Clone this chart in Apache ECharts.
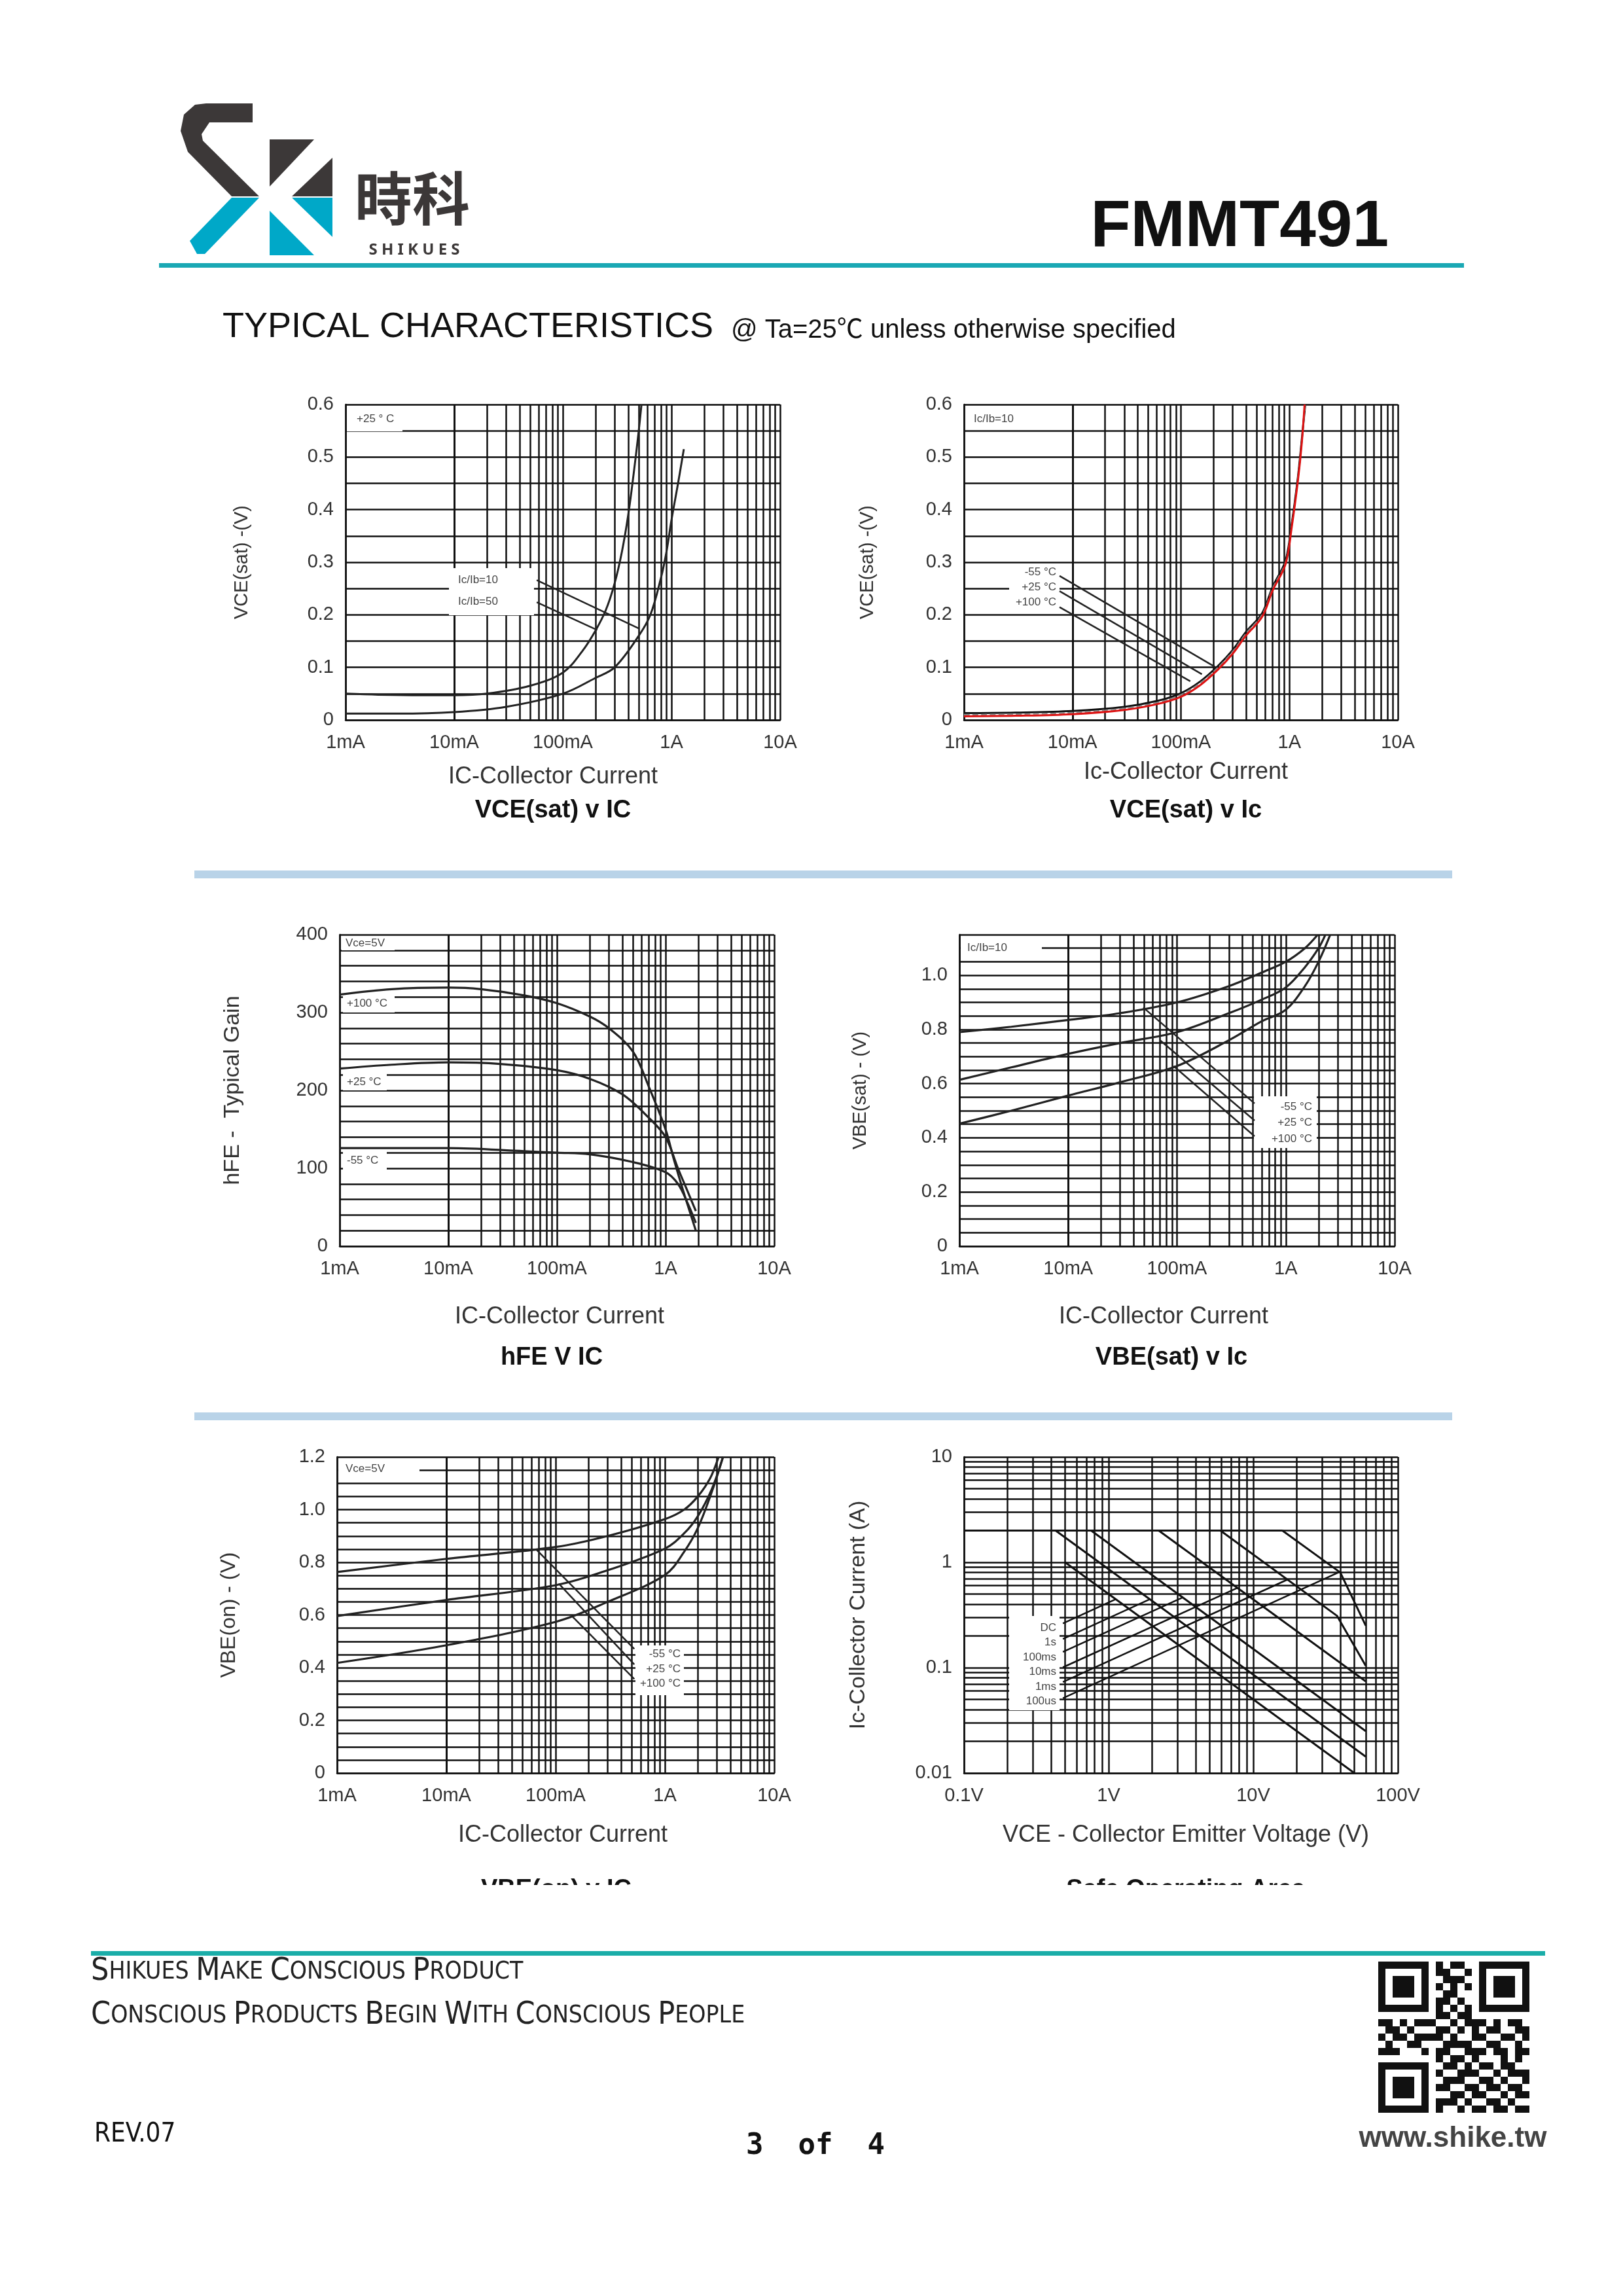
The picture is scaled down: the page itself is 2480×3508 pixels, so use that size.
<!DOCTYPE html>
<html><head><meta charset="utf-8">
<script src="https://cdn.jsdelivr.net/npm/echarts@6/dist/echarts.min.js"></script>
<style>html,body{margin:0;padding:0;background:#fff}#c{width:2480px;height:3508px}</style>
</head><body><div id="c"></div>
<script>
// ---------- DATA ----------
const currentTicks = ['1mA','10mA','100mA','1A','10A'];
const voltageTicks = ['0.1V','1V','10V','100V'];
// Chart 1: VCE(sat) v IC
const vceSat_IcIb10 = [[0.001,0.05],[0.002,0.048],[0.005,0.047],[0.01,0.047],[0.02,0.05],[0.05,0.065],[0.1,0.09],[0.15,0.13],[0.2,0.17],[0.25,0.21],[0.3,0.26],[0.35,0.32],[0.4,0.39],[0.45,0.47],[0.5,0.55],[0.53,0.6]];
const vceSat_IcIb50 = [[0.001,0.012],[0.003,0.012],[0.01,0.015],[0.03,0.025],[0.1,0.05],[0.2,0.08],[0.3,0.1],[0.5,0.16],[0.64,0.2],[0.8,0.27],[0.9,0.32],[1.0,0.38],[1.15,0.45],[1.3,0.515]];
const vceSat_lead10 = [[0.0575,0.266],[0.5,0.174]];
const vceSat_lead50 = [[0.0575,0.224],[0.2075,0.171]];
// Chart 2: VCE(sat) v Ic, three temperatures
const vce2_m55 = [[0.001,0.013],[0.003,0.014],[0.01,0.017],[0.03,0.025],[0.06,0.036],[0.1,0.051],[0.15,0.073],[0.22,0.103],[0.3,0.133],[0.4,0.168],[0.56,0.203],[0.7,0.253],[0.92,0.303],[1.05,0.373],[1.2,0.463],[1.3,0.533],[1.4,0.6]];
const vce2_p25 = [[0.001,0.01],[0.003,0.011],[0.01,0.014],[0.03,0.022],[0.06,0.033],[0.1,0.048],[0.15,0.07],[0.22,0.1],[0.3,0.13],[0.4,0.165],[0.56,0.2],[0.7,0.25],[0.92,0.3],[1.05,0.37],[1.2,0.46],[1.3,0.53],[1.4,0.6]];
const vce2_p100 = [[0.001,0.007],[0.003,0.008],[0.01,0.011],[0.03,0.019],[0.06,0.03],[0.1,0.044],[0.15,0.066],[0.22,0.096],[0.3,0.126],[0.4,0.161],[0.56,0.196],[0.7,0.246],[0.92,0.296],[1.05,0.366],[1.2,0.456],[1.3,0.526],[1.38,0.6]];
const vce2_leadM55 = [[0.0076,0.274],[0.206,0.101]];
const vce2_leadP25 = [[0.0076,0.245],[0.156,0.087]];
const vce2_leadP100 = [[0.0076,0.2145],[0.122,0.0735]];
// Chart 3: hFE v IC
const hfe_p100 = [[0.001,323],[0.003,330],[0.01,332],[0.02,330],[0.05,322],[0.1,312],[0.2,295],[0.3,280],[0.5,250],[0.7,205],[1.0,150],[1.2,110],[1.5,65],[1.9,20]];
const hfe_p25 = [[0.001,228],[0.003,233],[0.01,236],[0.03,234],[0.1,226],[0.2,215],[0.4,195],[0.7,165],[1.0,140],[1.3,100],[1.6,70],[1.9,45]];
const hfe_m55 = [[0.001,126],[0.01,126],[0.05,122],[0.1,120],[0.2,118],[0.5,108],[1.0,95],[1.3,80],[1.6,55],[1.9,30]];
// Chart 4: VBE(sat) v Ic
const vbeSat_m55 = [[0.001,0.79],[0.003,0.81],[0.01,0.835],[0.03,0.86],[0.1,0.9],[0.3,0.96],[0.6,1.01],[1.0,1.05],[1.5,1.1],[1.95,1.148]];
const vbeSat_p25 = [[0.001,0.614],[0.003,0.66],[0.01,0.71],[0.03,0.75],[0.1,0.79],[0.3,0.86],[0.6,0.91],[1.0,0.955],[1.5,1.03],[2.0,1.1],[2.3,1.148]];
const vbeSat_p100 = [[0.001,0.452],[0.003,0.5],[0.01,0.556],[0.03,0.605],[0.1,0.665],[0.3,0.76],[0.6,0.83],[1.0,0.873],[1.5,0.96],[2.0,1.05],[2.55,1.148]];
const vbeSat_leadM55 = [[0.049,0.881],[0.516,0.527]];
const vbeSat_leadP25 = [[0.070,0.76],[0.516,0.4637]];
const vbeSat_leadP100 = [[0.093,0.665],[0.516,0.406]];
// Chart 5: VBE(on) v IC
const vbeOn_m55 = [[0.001,0.763],[0.01,0.813],[0.1,0.858],[0.3,0.9],[1.0,0.964],[1.5,1.0],[2.0,1.05],[2.6,1.12],[3.1,1.2]];
const vbeOn_p25 = [[0.001,0.596],[0.01,0.657],[0.1,0.713],[0.3,0.77],[1.0,0.852],[1.5,0.91],[2.0,0.975],[2.7,1.08],[3.4,1.2]];
const vbeOn_p100 = [[0.001,0.418],[0.01,0.485],[0.1,0.574],[0.3,0.65],[1.0,0.752],[1.5,0.84],[2.0,0.93],[2.7,1.07],[3.4,1.2]];
const vbeOn_leadM55 = [[0.066,0.85],[0.525,0.471]];
const vbeOn_leadP25 = [[0.107,0.719],[0.525,0.412]];
const vbeOn_leadP100 = [[0.141,0.596],[0.525,0.357]];
// Chart 6: Safe Operating Area
const soa_limit2A = [[0.1,2],[15.9,2]];
const soa_DC = [[0.5,1],[50,0.01]];
const soa_1s = [[0.43,2],[60,0.0143]];
const soa_100ms = [[0.757,2],[60,0.025]];
const soa_10ms = [[2.22,2],[60,0.074]];
const soa_1ms = [[5.93,2],[38,0.31],[60,0.104]];
const soa_100us = [[15.9,2],[40,0.8],[60,0.25]];
const soa_leadDC = [[0.483,0.263],[1.12,0.446]];
const soa_lead1s = [[0.483,0.1875],[1.93,0.446]];
const soa_lead100ms = [[0.483,0.1413],[3.24,0.463]];
const soa_lead10ms = [[0.483,0.1007],[7.77,0.571]];
const soa_lead1ms = [[0.483,0.0731],[17.3,0.687]];
const soa_lead100us = [[0.483,0.0513],[39.6,0.81]];
const soaLabels = ['DC','1s','100ms','10ms','1ms','100us'];
const tempLabels = ['-55 °C','+25 °C','+100 °C'];
const qrRows = ["111111101011001111111","100000101100101000001","101110100111001011101","101110101010101011101","101110100110001011101","100000101101001000001","111111101010101111111","000000001101100000000","110101110010111010110","011010001101010110011","101101111010011001101","010011000111100110010","111000101100111011011","000000001011010001010","111111100110101101100","100000101001110010111","101110100111001101001","101110101100110110110","101110100011011001011","100000101110100110100","111111101001011011011"];

// ---------- STYLE / LAYOUT ----------
const FONT = "'Liberation Sans Narrow','Liberation Sans',Arial,sans-serif";
const GL = {color:'#111', width:2.5};
const grids = [
  {left:528, top:618, width:664, height:482},
  {left:1473, top:618, width:663, height:482},
  {left:519, top:1428, width:664, height:476},
  {left:1466, top:1428, width:665, height:476},
  {left:515, top:2226, width:668, height:483},
  {left:1473, top:2226, width:663, height:483}
];
function decLabel(ticks, minExp){ return v => { const e = Math.round(Math.log10(v)); return ticks[e - minExp] || ''; }; }
function xLog(i, min, max, ticks, minExp){
  return {gridIndex:i, type:'log', logBase:10, min, max,
    axisLine:{show:true, onZero:false, lineStyle:GL}, axisTick:{show:false},
    splitLine:{show:true, lineStyle:GL},
    axisLabel:{formatter:decLabel(ticks,minExp), fontSize:29, color:'#333', margin:20, fontFamily:FONT}};
}
function yVal(i, max, interval, fmt, name, nameGap, nameSize){
  return {gridIndex:i, type:'value', min:0, max, interval,
    axisLine:{show:true, lineStyle:GL}, axisTick:{show:false},
    splitLine:{show:true, lineStyle:GL},
    axisLabel:{formatter:fmt, fontSize:29, color:'#333', margin:18, fontFamily:FONT},
    name, nameLocation:'middle', nameGap, nameRotate:90,
    nameTextStyle:{fontSize:nameSize, color:'#333', fontFamily:FONT}};
}
const near = (a,b)=>Math.abs(a-b)<1e-6;
const fmtTenth = v => near(v*10, Math.round(v*10)) ? (near(v,0)?'0':v.toFixed(1)) : '';
const fmtFifth = v => near(v*5, Math.round(v*5)) ? (near(v,0)?'0':v.toFixed(1)) : '';
const fmtHund = v => (Math.round(v)%100===0) ? String(Math.round(v)) : '';

function minorVals(minExp, maxExp){
  const out=[]; for(let e=minExp;e<maxExp;e++){ for(let k=2;k<=9;k++){ out.push(k*Math.pow(10,e)); } } return out;
}
function gridSeries(i, xs, ys){
  const d = xs.map(v=>({xAxis:v})).concat((ys||[]).map(v=>({yAxis:v})));
  return {type:'line', xAxisIndex:i, yAxisIndex:i, data:[], z:1, silent:true, animation:false,
    markLine:{symbol:'none', silent:true, animation:false, z:1, label:{show:false}, lineStyle:{color:'#111',width:2.5,type:'solid'}, data:d}};
}
function curve(i, pts, color, width, smooth, type){
  return {type:'line', xAxisIndex:i, yAxisIndex:i, data:pts, showSymbol:false, smooth: smooth ? 0.35 : false,
    z:100, silent:true, animation:false, lineStyle:{color:color||'#222', width:width||3, type:type||'solid'}};
}

const xAxes = [
  xLog(0,0.001,10,currentTicks,-3), xLog(1,0.001,10,currentTicks,-3), xLog(2,0.001,10,currentTicks,-3),
  xLog(3,0.001,10,currentTicks,-3), xLog(4,0.001,10,currentTicks,-3), xLog(5,0.1,100,voltageTicks,-1)
];
const yAxes = [
  yVal(0,0.6,0.05,fmtTenth,'VCE(sat) -(V)',144,29),
  yVal(1,0.6,0.05,fmtTenth,'VCE(sat) -(V)',133,29),
  yVal(2,400,20,fmtHund,'hFE -  Typical Gain',146,34),
  yVal(3,1.15,0.05,fmtFifth,'VBE(sat) - (V)',137,29),
  yVal(4,1.2,0.05,fmtFifth,'VBE(on) - (V)',149,32),
  {gridIndex:5, type:'log', logBase:10, min:0.01, max:10,
    axisLine:{show:true, lineStyle:GL}, axisTick:{show:false}, splitLine:{show:true, lineStyle:GL},
    axisLabel:{formatter:v=>{const e=Math.round(Math.log10(v)); return ['0.01','0.1','1','10'][e+2]||'';}, fontSize:29, color:'#333', margin:18, fontFamily:FONT},
    name:'Ic-Collector Current (A)', nameLocation:'middle', nameGap:144, nameRotate:90,
    nameTextStyle:{fontSize:34, color:'#333', fontFamily:FONT}}
];

const series = [
  gridSeries(0, minorVals(-3,1)), gridSeries(1, minorVals(-3,1)), gridSeries(2, minorVals(-3,1)),
  gridSeries(3, minorVals(-3,1)), gridSeries(4, minorVals(-3,1)), gridSeries(5, minorVals(-1,2), minorVals(-2,1)),
  curve(0, vceSat_IcIb10, '#222', 3, true), curve(0, vceSat_IcIb50, '#222', 3, true),
  curve(0, vceSat_lead10, '#222', 2.5), curve(0, vceSat_lead50, '#222', 2.5),
  curve(1, vce2_m55, '#111', 3, true), curve(1, vce2_p25, '#888', 2.2, true, 'dashed'), curve(1, vce2_p100, '#d11', 3, true),
  curve(1, vce2_leadM55, '#222', 2.5), curve(1, vce2_leadP25, '#222', 2.5), curve(1, vce2_leadP100, '#222', 2.5),
  curve(2, hfe_p100, '#222', 3.2, true), curve(2, hfe_p25, '#222', 3.2, true), curve(2, hfe_m55, '#222', 3.2, true),
  curve(3, vbeSat_m55, '#222', 3.2, true), curve(3, vbeSat_p25, '#222', 3.2, true), curve(3, vbeSat_p100, '#222', 3.2, true),
  curve(3, vbeSat_leadM55, '#222', 2.5), curve(3, vbeSat_leadP25, '#222', 2.5), curve(3, vbeSat_leadP100, '#222', 2.5),
  curve(4, vbeOn_m55, '#222', 3.2, true), curve(4, vbeOn_p25, '#222', 3.2, true), curve(4, vbeOn_p100, '#222', 3.2, true),
  curve(4, vbeOn_leadM55, '#222', 2.5), curve(4, vbeOn_leadP25, '#222', 2.5), curve(4, vbeOn_leadP100, '#222', 2.5),
  curve(5, soa_limit2A, '#111', 3), curve(5, soa_DC, '#111', 3), curve(5, soa_1s, '#111', 3), curve(5, soa_100ms, '#111', 3),
  curve(5, soa_10ms, '#111', 3), curve(5, soa_1ms, '#111', 3), curve(5, soa_100us, '#111', 3),
  curve(5, soa_leadDC, '#111', 2.5), curve(5, soa_lead1s, '#111', 2.5), curve(5, soa_lead100ms, '#111', 2.5),
  curve(5, soa_lead10ms, '#111', 2.5), curve(5, soa_lead1ms, '#111', 2.5), curve(5, soa_lead100us, '#111', 2.5)
];

// ---------- GRAPHIC (page furniture) ----------
const g = [];
function txt(x,y,text,size,opt){ g.push(Object.assign({type:'text', x, y, z:200, style:Object.assign({text, fontSize:size, fill:'#222', fontFamily:FONT, textAlign:'center', textVerticalAlign:'middle'}, (opt||{}).style||{})}, opt&&opt.el||{})); }
function rect(x,y,w,h,fill,z){ g.push({type:'rect', shape:{x,y,width:w,height:h}, z:z||50, style:{fill}}); }
function poly(pts,fill){ g.push({type:'polygon', shape:{points:pts}, z:200, style:{fill}}); }
function boxText(bx,by,bw,bh,lines,ly,align,tx,size){
  rect(bx,by,bw,bh,'#fff',50);
  lines.forEach((t,k)=>txt(tx,ly[k],t,size||17,{style:{textAlign:align,fill:'#444',fontFamily:"'Liberation Sans',Arial,sans-serif"}}));
}
// logo
poly([[315,158],[386,158],[386,187],[320,187],[308,205],[310,215],[396,300],[354,300],[287,232],[276,200],[281,175],[298,160]],'#3c3838');
poly([[354,302],[396,302],[313,388],[301,388],[290,368]],'#00a8c8');
poly([[412,213],[480,213],[412,285]],'#3c3838');
poly([[508,241],[508,300],[446,300]],'#3c3838');
poly([[446,302],[508,302],[508,362]],'#00a8c8');
poly([[412,322],[480,390],[412,390]],'#00a8c8');
txt(630,303,'時科',88,{style:{fill:'#3c3838',fontFamily:"'Noto Sans CJK TC',sans-serif",fontWeight:'bold'}});
txt(633,382,'S H I K U E S',24,{style:{fill:'#3c3838',fontFamily:"'Noto Sans','DejaVu Sans',sans-serif",fontWeight:'bold'}});
rect(243,402,1994,7,'#1aa8b4',200);
txt(2122,348,'FMMT491',100,{style:{textAlign:'right',fill:'#111',fontWeight:'bold',fontFamily:"'Liberation Sans',Arial,sans-serif"}});
txt(340,500,'TYPICAL CHARACTERISTICS',54,{style:{textAlign:'left',fill:'#111',fontFamily:"'Liberation Sans',Arial,sans-serif"}});
txt(1117,505,'@ Ta=25℃ unless otherwise specified',40,{style:{textAlign:'left',fill:'#111',fontFamily:"'Liberation Sans','Noto Sans CJK SC',Arial,sans-serif"}});
// separators
rect(297,1330,1922,12,'#b9d3e8',200);
rect(297,2158,1922,12,'#b9d3e8',200);
// axis names & titles
const xNames = [[845,1187,'IC-Collector Current'],[1812,1180,'Ic-Collector Current'],[855,2012,'IC-Collector Current'],[1778,2012,'IC-Collector Current'],[860,2804,'IC-Collector Current'],[1812,2804,'VCE - Collector Emitter Voltage (V)']];
xNames.forEach(n=>txt(n[0],n[1],n[2],36,{style:{fill:'#333'}}));
const titles = [[845,1239,'VCE(sat) v IC'],[1812,1239,'VCE(sat) v Ic'],[843,2075,'hFE V IC'],[1790,2075,'VBE(sat) v Ic'],[850,2888,'VBE(on) v IC'],[1812,2888,'Safe Operating Area']];
titles.forEach(n=>txt(n[0],n[1],n[2],38,{style:{fill:'#111',fontWeight:'bold'}}));
rect(300,2880,1900,60,'#fff',300);
// in-plot label boxes
boxText(530,621,85,38,['+25 ° C'],[640],'left',545);
boxText(686,868,130,72,['Ic/Ib=10','Ic/Ib=50'],[886,919],'left',700);
boxText(1475,621,117,36,['Ic/Ib=10'],[640],'left',1488);
boxText(1542,861,77,72,tempLabels,[874,897,920],'right',1614);
boxText(522,1430,81,22,['Vce=5V'],[1441],'left',528);
boxText(524,1520,79,27,['+100 °C'],[1533],'left',530);
boxText(524,1641,67,25,['+25 °C'],[1653],'left',530);
boxText(524,1760,67,27,['-55 °C'],[1773],'left',530);
boxText(1468,1430,124,36,['Ic/Ib=10'],[1448],'left',1478);
boxText(1916,1675,96,79,tempLabels,[1691,1715,1740],'right',2005);
boxText(517,2228,124,34,['Vce=5V'],[2244],'left',528);
boxText(971,2514,74,76,tempLabels,[2527,2550,2572],'right',1040);
boxText(1542,2469,77,144,soaLabels,[2487,2509,2532,2554,2577,2599],'right',1614);
// footer
rect(139,2981,2222,7,'#1aada8',200);
function smallCaps(s){
  return s.split(' ').map(w=>'{b|'+w[0].toUpperCase()+'}{s|'+w.slice(1).toUpperCase()+'}').join('{s| }');
}
[['Shikues Make Conscious Product',3013],['Conscious Products Begin With Conscious People',3080]].forEach(l=>{
  g.push({type:'text', x:139, y:l[1], z:200, style:{text:smallCaps(l[0]), textAlign:'left', textVerticalAlign:'middle', fill:'#222',
    rich:{b:{fontSize:48, fontFamily:"'DejaVu Sans Condensed','Noto Sans',sans-serif", fill:'#222'}, s:{fontSize:37, fontFamily:"'DejaVu Sans Condensed','Noto Sans',sans-serif", fill:'#222'}}}});
});
txt(144,3262,'REV.07',40,{style:{textAlign:'left',fill:'#111',fontFamily:"'DejaVu Sans Condensed','Noto Sans',sans-serif"}});
txt(1246,3280,'3  of  4',44,{style:{fill:'#111',fontWeight:'bold',fontFamily:"'DejaVu Sans Mono',monospace"}});
txt(2220,3268,'www.shike.tw',44,{style:{fill:'#444',fontWeight:'bold',fontFamily:"'Liberation Sans',Arial,sans-serif"}});
const qrX=2106, qrY=2997, mod=11;
qrRows.forEach((row,r)=>{ for(let c=0;c<row.length;c++){ if(row[c]==='1') rect(qrX+c*mod, qrY+r*mod, mod, mod, '#111', 200); } });

const chart = echarts.init(document.getElementById('c'), null, {renderer:'canvas'});
chart.setOption({
  backgroundColor:'#fff', animation:false,
  grid: grids, xAxis: xAxes, yAxis: yAxes, series, graphic: g
});
</script></body></html>
